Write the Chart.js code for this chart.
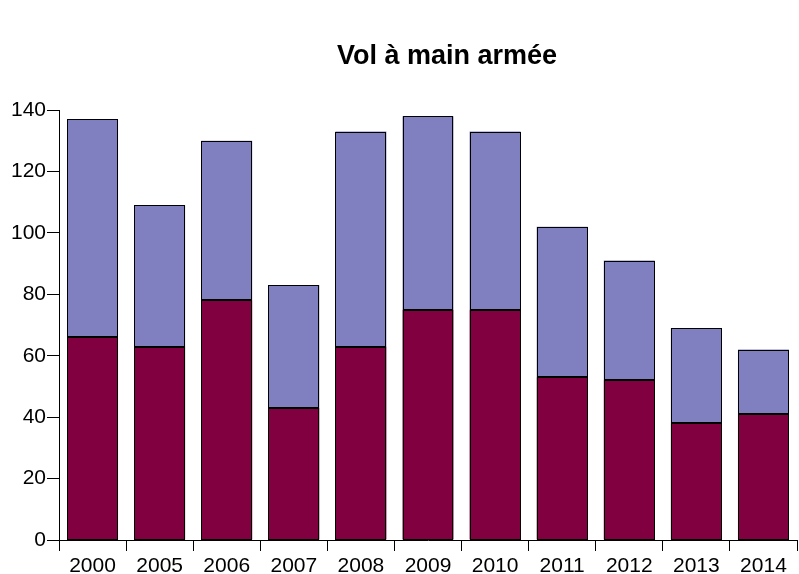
<!DOCTYPE html>
<html>
<head>
<meta charset="utf-8">
<script src="https://cdn.jsdelivr.net/npm/chart.js@4/dist/chart.umd.min.js"></script>
<style>
  html, body { margin: 0; padding: 0; background: #fff; }
  #wrap { width: 799px; height: 574px; }
</style>
</head>
<body>
<div id="wrap"><canvas id="chart" width="799" height="574"></canvas></div>
<script>
// data
const years = ["2000", "2005", "2006", "2007", "2008", "2009", "2010", "2011", "2012", "2013", "2014"];
const lower = [66, 63, 78, 43, 63, 75, 75, 53, 52, 38, 41];
const upper = [71, 46, 52, 40, 70, 63, 58, 49, 39, 31, 21];
const yTicks = [0, 20, 40, 60, 80, 100, 120, 140];
const title = "Vol à main armée";

// title is offset to the right of the canvas centre, so draw it by hand
const titlePlugin = {
  id: "offsetTitle",
  afterDraw(chart) {
    const ctx = chart.ctx;
    ctx.save();
    ctx.font = "bold 27px 'Liberation Sans', Arial, sans-serif";
    ctx.fillStyle = "#000";
    ctx.textAlign = "center";
    ctx.textBaseline = "alphabetic";
    ctx.fillText(title, 447, 64);
    ctx.restore();
  },
};

// crisp 1px black outlines around each bar segment (snapped to pixels)
const outlinePlugin = {
  id: "crispOutline",
  afterDatasetsDraw(chart) {
    const ctx = chart.ctx;
    ctx.save();
    ctx.strokeStyle = "#000";
    ctx.lineWidth = 1;
    chart.data.datasets.forEach((ds, i) => {
      chart.getDatasetMeta(i).data.forEach((bar) => {
        const p = bar.getProps(["x", "y", "base", "width"], true);
        const l = Math.round(p.x - p.width / 2) + 0.5;
        const r = Math.round(p.x + p.width / 2) - 0.5;
        const t = Math.round(Math.min(p.y, p.base)) + 0.5;
        const b = Math.round(Math.max(p.y, p.base)) - 0.5;
        ctx.strokeRect(l, t, r - l, b - t);
      });
    });
    ctx.restore();
  },
};

const font = { family: "'Liberation Sans', Arial, sans-serif", size: 21 };

new Chart(document.getElementById("chart"), {
  type: "bar",
  data: {
    labels: years,
    datasets: [
      { data: lower, backgroundColor: "#800040", borderWidth: 0 },
      { data: upper, backgroundColor: "#8080C0", borderWidth: 0 },
    ],
  },
  options: {
    responsive: false,
    animation: false,
    categoryPercentage: 1,
    barPercentage: 0.76,
    layout: { padding: { top: 110, right: 2, left: 0, bottom: 0 } },
    plugins: { legend: { display: false }, title: { display: false }, tooltip: { enabled: false } },
    scales: {
      x: {
        stacked: true,
        grid: { offset: true, drawOnChartArea: false, drawTicks: true, tickLength: 11, color: "#000" },
        border: { color: "#000", width: 1 },
        ticks: { color: "#000", font, padding: 3, maxRotation: 0 },
        afterFit(scale) { scale.height = 34; },
      },
      y: {
        stacked: true,
        min: 0,
        max: 140,
        afterBuildTicks(scale) { scale.ticks = yTicks.map((v) => ({ value: v })); },
        grid: { drawOnChartArea: false, drawTicks: true, tickLength: 12, color: "#000" },
        border: { color: "#000", width: 1 },
        ticks: { color: "#000", font, padding: 1 },
        afterFit(scale) { scale.width = 59; },
      },
    },
  },
  plugins: [titlePlugin, outlinePlugin],
});
</script>
</body>
</html>
